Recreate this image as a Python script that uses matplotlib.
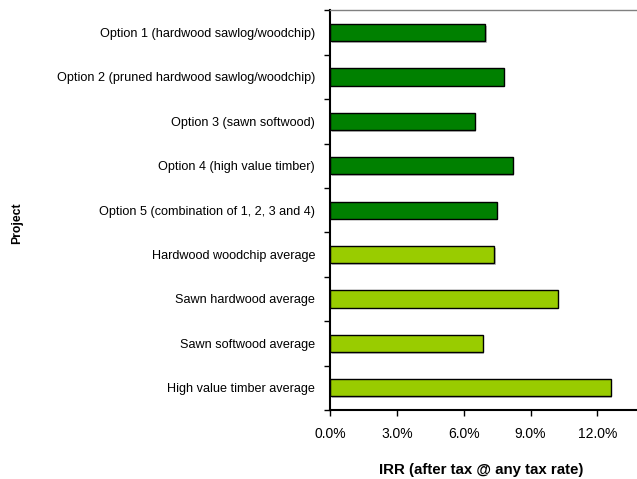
import matplotlib
matplotlib.use("Agg")
import matplotlib.pyplot as plt
import matplotlib.patheffects as pe
from matplotlib.ticker import FuncFormatter, FixedLocator
import numpy as np

plt.rcParams['font.family'] = ['Liberation Sans', 'DejaVu Sans']

categories = [
    "Option 1 (hardwood sawlog/woodchip)",
    "Option 2 (pruned hardwood sawlog/woodchip)",
    "Option 3 (sawn softwood)",
    "Option 4 (high value timber)",
    "Option 5 (combination of 1, 2, 3 and 4)",
    "Hardwood woodchip average",
    "Sawn hardwood average",
    "Sawn softwood average",
    "High value timber average",
]
irr_values = [6.97, 7.79, 6.49, 8.20, 7.48, 7.37, 10.22, 6.85, 12.60]
groups = ["option"] * 5 + ["average"] * 4
group_colors = {"option": "#008000", "average": "#99CC00"}
x_ticks = [0, 3, 6, 9, 12]

fig = plt.figure(figsize=(6.37, 4.79), dpi=100)
ax = fig.add_axes([0.5185, 0.144, 0.489, 0.8345])

n = len(categories)
ypos = np.arange(n)
colors = [group_colors[g] for g in groups]
bars = ax.barh(ypos, irr_values, height=0.39, color=colors, edgecolor="black",
               linewidth=1.0)
for b in bars:
    b.set_path_effects([pe.SimplePatchShadow(offset=(1.2, -1.2), shadow_rgbFace="#999999", alpha=0.6),
                        pe.Normal()])

ax.set_ylim(n - 0.5, -0.5)
ax.set_xlim(0, 14)
ax.xaxis.set_major_locator(FixedLocator(x_ticks))
ax.xaxis.set_major_formatter(FuncFormatter(lambda v, p: f"{v:.1f}%"))

ax.set_yticks(ypos)
ax.set_yticklabels(categories, fontsize=9.1)
ax.yaxis.set_minor_locator(FixedLocator(np.arange(-0.5, n, 1.0)))
ax.tick_params(axis='y', which='major', length=0, pad=11)
ax.tick_params(axis='y', which='minor', length=4, width=1, direction='out')
ax.tick_params(axis='x', which='major', length=4, width=1, direction='out', labelsize=10, pad=8)

for s in ["left", "bottom"]:
    ax.spines[s].set_color("black")
    ax.spines[s].set_linewidth(1.5)
ax.spines["top"].set_color("#808080")
ax.spines["top"].set_linewidth(1.0)
ax.spines["right"].set_visible(False)

fig.text(0.0275, 0.535, "Project", rotation=90, fontsize=8.8, fontweight="bold",
         ha="center", va="center")
fig.text(0.755, 0.019, "IRR (after tax @ any tax rate)", fontsize=10.8, fontweight="bold",
         ha="center", va="center")

fig.savefig("out.png", dpi=100)
